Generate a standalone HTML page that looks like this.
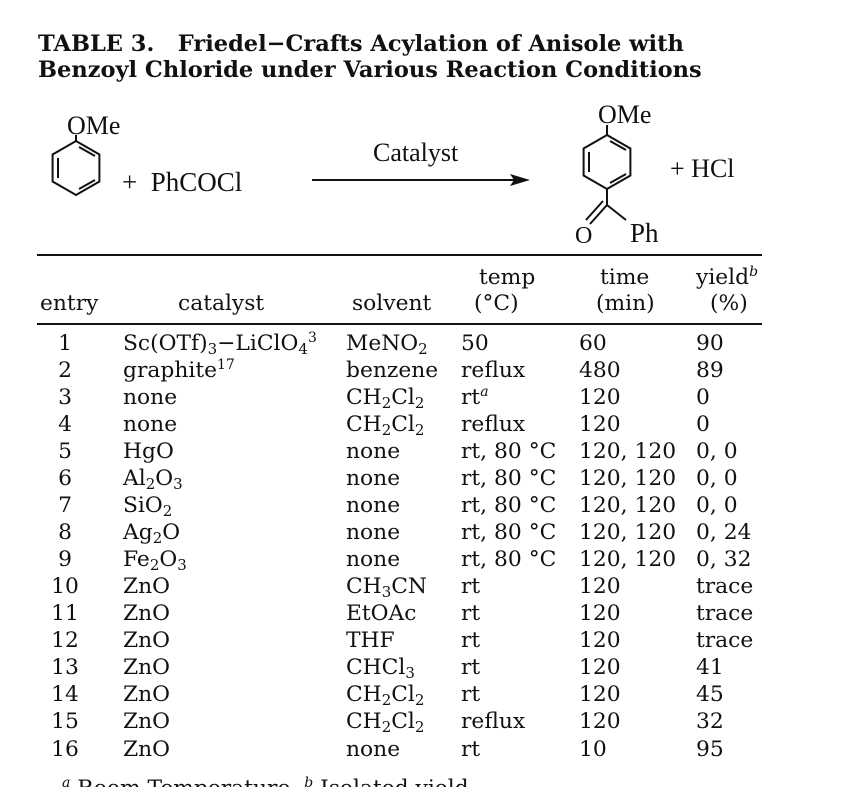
<!DOCTYPE html>
<html><head><meta charset="utf-8"><style>
body{margin:0;background:#fff;}
#p{position:relative;width:864px;height:787px;overflow:hidden;font-family:"DejaVu Serif","Liberation Serif",serif;color:#111;}
.t{position:absolute;font-size:22.5px;font-weight:bold;line-height:23px;left:38px;white-space:nowrap;}
.r{position:absolute;left:0;width:864px;height:22px;font-size:21.8px;line-height:22px;white-space:nowrap;}
.r span{position:absolute;top:0;}
sub{font-size:15px;vertical-align:-4px;line-height:0;}
sup{font-size:14px;vertical-align:8px;line-height:0;}
.e{width:50px;left:40px;text-align:center;}
.c{left:123px}.s{left:346px}.m{left:461px}.ti{left:579px}.y{left:696px}
.hr{position:absolute;left:37px;width:725px;background:#111;}
</style></head><body><div id="p">
<div class="t" style="top:33px">TABLE 3.&nbsp;&nbsp; Friedel−Crafts Acylation of Anisole with</div>
<div class="t" style="top:59px">Benzoyl Chloride under Various Reaction Conditions</div>
<svg style="position:absolute;left:0;top:0" width="864" height="260" font-family="Liberation Serif, serif" fill="#111">
<g stroke="#111" stroke-width="2" fill="none">
<polygon points="76,141 99.4,154.5 99.4,181.5 76,195 52.6,181.5 52.6,154.5"/>
<line x1="58" y1="158" x2="58" y2="178"/><line x1="79" y1="189" x2="95" y2="180"/><line x1="79" y1="147" x2="95" y2="156"/>
<line x1="76" y1="141" x2="76" y2="135"/>
<polygon points="607,135 630.4,148.5 630.4,175.5 607,189 583.6,175.5 583.6,148.5"/>
<line x1="589" y1="152" x2="589" y2="172"/><line x1="610" y1="183" x2="626" y2="174"/><line x1="610" y1="141" x2="626" y2="150"/>
<line x1="607" y1="135" x2="607" y2="125"/>
<line x1="607" y1="189" x2="607" y2="205"/>
<line x1="607" y1="205" x2="626" y2="220"/>
<line x1="607" y1="205" x2="590" y2="224"/><line x1="603" y1="201" x2="586" y2="220"/>
<line x1="312" y1="180" x2="518" y2="180"/>
</g>
<polygon points="530,180 510,174 514,180 510,186"/>
<text x="67" y="134" font-size="26">OMe</text>
<text x="122" y="191" font-size="27">+&nbsp; PhCOCl</text>
<text x="373" y="161" font-size="26">Catalyst</text>
<text x="598" y="123" font-size="26">OMe</text>
<text x="670" y="177" font-size="26">+ HCl</text>
<text x="575" y="243" font-size="24">O</text>
<text x="630" y="242" font-size="27">Ph</text>
</svg>
<div class="hr" style="top:254px;height:2px"></div>
<div class="r" style="top:267px"><span class="m" style="left:479px">temp</span><span class="ti" style="left:600px">time</span><span class="y">yield<sup><i>b</i></sup></span></div>
<div class="r" style="top:293px"><span style="left:40px">entry</span><span style="left:178px">catalyst</span><span style="left:352px">solvent</span><span style="left:474px">(°C)</span><span style="left:596px">(min)</span><span style="left:710px">(%)</span></div>
<div class="hr" style="top:323px;height:1.5px"></div>
<div class="r" style="top:333px"><span class="e">1</span><span class="c">Sc(OTf)<sub>3</sub>−LiClO<sub>4</sub><sup>3</sup></span><span class="s">MeNO<sub>2</sub></span><span class="m">50</span><span class="ti">60</span><span class="y">90</span></div>
<div class="r" style="top:360px"><span class="e">2</span><span class="c">graphite<sup>17</sup></span><span class="s">benzene</span><span class="m">reflux</span><span class="ti">480</span><span class="y">89</span></div>
<div class="r" style="top:387px"><span class="e">3</span><span class="c">none</span><span class="s">CH<sub>2</sub>Cl<sub>2</sub></span><span class="m">rt<sup><i>a</i></sup></span><span class="ti">120</span><span class="y">0</span></div>
<div class="r" style="top:414px"><span class="e">4</span><span class="c">none</span><span class="s">CH<sub>2</sub>Cl<sub>2</sub></span><span class="m">reflux</span><span class="ti">120</span><span class="y">0</span></div>
<div class="r" style="top:441px"><span class="e">5</span><span class="c">HgO</span><span class="s">none</span><span class="m">rt, 80 °C</span><span class="ti">120, 120</span><span class="y">0, 0</span></div>
<div class="r" style="top:468px"><span class="e">6</span><span class="c">Al<sub>2</sub>O<sub>3</sub></span><span class="s">none</span><span class="m">rt, 80 °C</span><span class="ti">120, 120</span><span class="y">0, 0</span></div>
<div class="r" style="top:495px"><span class="e">7</span><span class="c">SiO<sub>2</sub></span><span class="s">none</span><span class="m">rt, 80 °C</span><span class="ti">120, 120</span><span class="y">0, 0</span></div>
<div class="r" style="top:522px"><span class="e">8</span><span class="c">Ag<sub>2</sub>O</span><span class="s">none</span><span class="m">rt, 80 °C</span><span class="ti">120, 120</span><span class="y">0, 24</span></div>
<div class="r" style="top:549px"><span class="e">9</span><span class="c">Fe<sub>2</sub>O<sub>3</sub></span><span class="s">none</span><span class="m">rt, 80 °C</span><span class="ti">120, 120</span><span class="y">0, 32</span></div>
<div class="r" style="top:576px"><span class="e">10</span><span class="c">ZnO</span><span class="s">CH<sub>3</sub>CN</span><span class="m">rt</span><span class="ti">120</span><span class="y">trace</span></div>
<div class="r" style="top:603px"><span class="e">11</span><span class="c">ZnO</span><span class="s">EtOAc</span><span class="m">rt</span><span class="ti">120</span><span class="y">trace</span></div>
<div class="r" style="top:630px"><span class="e">12</span><span class="c">ZnO</span><span class="s">THF</span><span class="m">rt</span><span class="ti">120</span><span class="y">trace</span></div>
<div class="r" style="top:657px"><span class="e">13</span><span class="c">ZnO</span><span class="s">CHCl<sub>3</sub></span><span class="m">rt</span><span class="ti">120</span><span class="y">41</span></div>
<div class="r" style="top:684px"><span class="e">14</span><span class="c">ZnO</span><span class="s">CH<sub>2</sub>Cl<sub>2</sub></span><span class="m">rt</span><span class="ti">120</span><span class="y">45</span></div>
<div class="r" style="top:711px"><span class="e">15</span><span class="c">ZnO</span><span class="s">CH<sub>2</sub>Cl<sub>2</sub></span><span class="m">reflux</span><span class="ti">120</span><span class="y">32</span></div>
<div class="r" style="top:739px"><span class="e">16</span><span class="c">ZnO</span><span class="s">none</span><span class="m">rt</span><span class="ti">10</span><span class="y">95</span></div>
<div class="r" style="top:778px"><span style="left:62px"><sup><i>a</i></sup> Room Temperature. <sup><i>b</i></sup> Isolated yield.</span></div>
</div></body></html>
